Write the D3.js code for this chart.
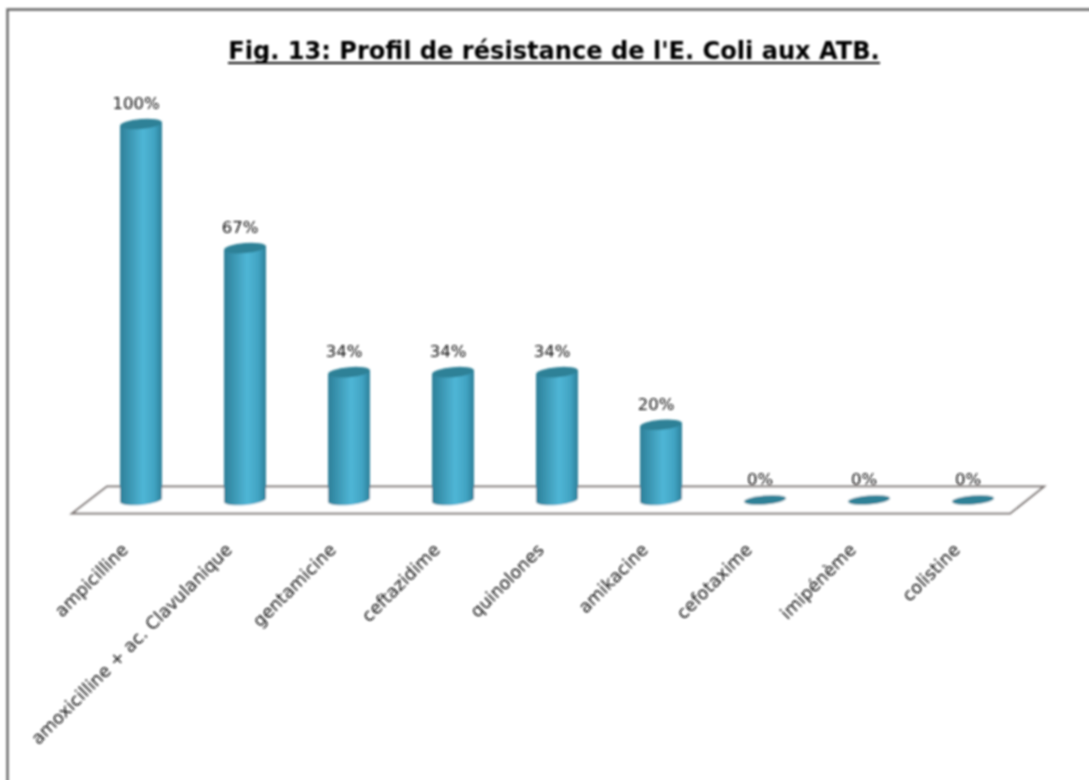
<!DOCTYPE html>
<html>
<head>
<meta charset="utf-8">
<script src="https://cdn.jsdelivr.net/npm/d3@7"></script>
<style>
    html, body { margin: 0; padding: 0; background: #fff; }
    svg { display: block; }
    text { font-family: "DejaVu Sans", sans-serif; fill: #111; }
</style>
</head>
<body>
<div id="main"></div>
<script>
const TITLE = "Fig. 13: Profil de résistance de l'E. Coli aux ATB.";
const ANTIBIOTICS = ["ampicilline", "amoxicilline + ac. Clavulanique", "gentamicine", "ceftazidime", "quinolones", "amikacine", "cefotaxime", "imipénème", "colistine"];
const RESISTANCE = [100, 67, 34, 34, 34, 20, 0, 0, 0];

const ctx = {
    w: 1089,
    h: 780,
    BAR_EDGE: "#2d7f98",
    BAR_MID: "#4fb6d6",
    BAR_TOP: "#2f8197",
    FLOOR_STROKE: "#7d7674",
    tilt: 2,
    rx: 21,
    ry: 5,
};

function createViz() {
    let svgEl = d3.select("#main").append("svg")
        .attr("width", ctx.w)
        .attr("height", ctx.h);

    let defs = svgEl.append("defs");
    let grad = defs.append("linearGradient").attr("id", "barGrad");
    grad.append("stop").attr("offset", "0%").attr("stop-color", ctx.BAR_EDGE);
    grad.append("stop").attr("offset", "55%").attr("stop-color", ctx.BAR_MID);
    grad.append("stop").attr("offset", "82%").attr("stop-color", "#41a3c2");
    grad.append("stop").attr("offset", "100%").attr("stop-color", ctx.BAR_EDGE);
    // the source is a low res scan, everything is a bit soft
    defs.append("filter").attr("id", "soft")
        .attr("filterUnits", "userSpaceOnUse")
        .attr("x", 0).attr("y", 0)
        .attr("width", ctx.w).attr("height", ctx.h)
        .append("feGaussianBlur").attr("stdDeviation", 0.8);

    let root = svgEl.append("g").attr("filter", "url(#soft)");

    // only the top and left sides of the frame show
    root.append("path")
        .attr("d", "M7.5,790V9.5H1099")
        .attr("fill", "none")
        .attr("stroke", "#666")
        .attr("stroke-width", 2.4);

    let x = d3.scaleBand()
        .domain(ANTIBIOTICS)
        .range([89, 1025])
        .paddingInner(0.596)
        .paddingOuter(0.298);
    let y = d3.scaleLinear()
        .domain([0, 100])
        .range([500, 124]);

    root.append("path")
        .attr("d", "M72,513.5L107,486.5H1044L1010,513.5Z")
        .attr("fill", "#fff")
        .attr("stroke", ctx.FLOOR_STROKE)
        .attr("stroke-width", 2);

    let bars = root.selectAll("g.bar")
        .data(RESISTANCE)
        .enter()
        .append("g")
        .classed("bar", true)
        .attr("transform", (d, i) => `translate(${x(ANTIBIOTICS[i]) + x.bandwidth() / 2},0)`);

    bars.filter((d) => d > 0)
        .append("path")
        .attr("d", (d) => `M${-ctx.rx},${y(d) + ctx.tilt}V${y(0) + ctx.tilt}`
            + `A${ctx.rx},${ctx.ry} -5 0 0 ${ctx.rx},${y(0) - ctx.tilt}V${y(d) - ctx.tilt}Z`)
        .attr("fill", "url(#barGrad)");

    bars.append("ellipse")
        .attr("rx", ctx.rx)
        .attr("ry", (d) => d > 0 ? ctx.ry : 4.5)
        .attr("transform", (d) => `translate(0,${y(d)}) rotate(-5)`)
        .attr("fill", ctx.BAR_TOP);

    bars.append("text")
        .attr("x", -5)
        .attr("y", (d) => y(d) - 15)
        .attr("text-anchor", "middle")
        .attr("font-size", 16.5)
        .text((d) => d + "%");

    let axis = root.append("g")
        .attr("transform", "translate(0,520)")
        .call(d3.axisBottom(x).tickSize(0).tickPadding(0));
    axis.select(".domain").remove();
    axis.selectAll("text")
        .attr("font-size", 17.5)
        .attr("font-family", null)
        .attr("text-anchor", "end")
        .attr("dy", null)
        .attr("y", 0)
        .attr("transform", "translate(-12,31) rotate(-45)");

    root.append("text")
        .attr("x", 554)
        .attr("y", 59)
        .attr("text-anchor", "middle")
        .attr("font-size", 24.1)
        .attr("font-weight", 700)
        .style("fill", "#000")
        .text(TITLE);
    root.append("line")
        .attr("x1", 228).attr("x2", 880)
        .attr("y1", 63).attr("y2", 63)
        .attr("stroke", "#111")
        .attr("stroke-width", 1.8);
}

createViz();
</script>
</body>
</html>
